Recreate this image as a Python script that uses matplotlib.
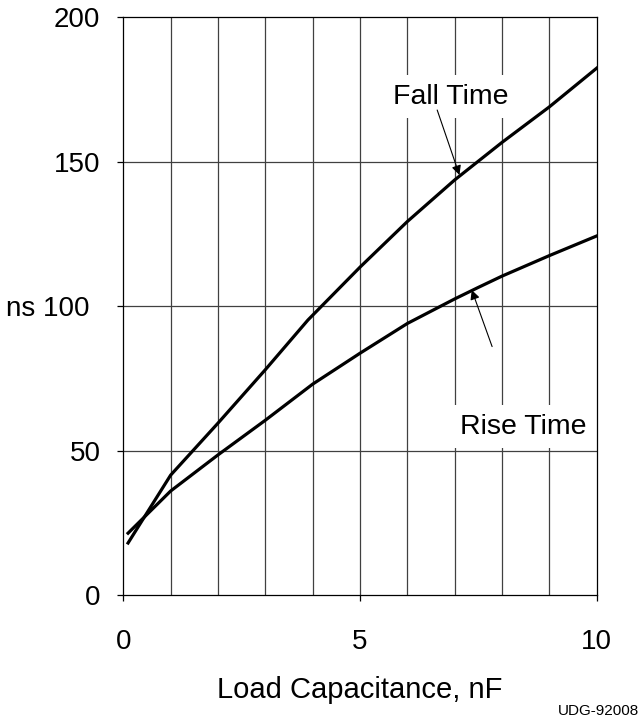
import matplotlib
matplotlib.use("Agg")
import matplotlib.pyplot as plt
import matplotlib.transforms as mtransforms

plt.rcParams['font.family'] = ['Liberation Sans', 'DejaVu Sans']

# Data
fall_x = [0.1, 1, 2, 3, 3.9, 5, 6, 7, 8, 9, 10]
fall_y = [18, 41.5, 59.5, 78, 95.2, 113.5, 129.3, 143.7, 156.7, 169, 182.4]

rise_x = [0.1, 1, 2, 3, 4, 5, 6, 7, 7.5, 8, 9, 10]
rise_y = [21.4, 36, 48.5, 60.5, 73, 83.7, 94, 102.5, 106.5, 110.4, 117.5, 124.3]

x_ticks = [0, 5, 10]
y_ticks = [0, 50, 100, 150, 200]
y_tick_labels = ['0', '50', 'ns 100', '150', '200']

fig = plt.figure(figsize=(6.44, 7.27), dpi=100)
ax = fig.add_axes([0.1915, 0.1816, 0.7351, 0.7946])

# grid
for gx in range(1, 10):
    ax.axvline(gx, color='0.25', lw=0.9, zorder=1)
for gy in [50, 100, 150]:
    ax.axhline(gy, color='0.25', lw=0.9, zorder=1)

ax.plot(fall_x, fall_y, color='black', lw=2.3, zorder=3)
ax.plot(rise_x, rise_y, color='black', lw=2.3, zorder=3)

ax.set_xlim(0, 10)
ax.set_ylim(0, 200)
ax.set_xticks(x_ticks)
ax.set_yticks(y_ticks)
ax.set_yticklabels(y_tick_labels)
ax.tick_params(axis='both', direction='out', length=4.5, width=0.9,
               labelsize=20, color='black')
ax.tick_params(axis='y', pad=12)
ax.tick_params(axis='x', pad=20)
for sp in ax.spines.values():
    sp.set_linewidth(0.9)
    sp.set_color('black')

# the "ns 100" label sits a bit further left than the others
shift = mtransforms.ScaledTranslation(-11 / 100, 0, fig.dpi_scale_trans)
for lbl in ax.get_yticklabels():
    if lbl.get_text().startswith('ns'):
        lbl.set_transform(lbl.get_transform() + shift)

ax.set_xlabel('Load Capacitance, nF', fontsize=21, labelpad=15)

box = dict(boxstyle='square,pad=0.3', fc='white', ec='none')
arrow = dict(arrowstyle='-|>', lw=0.8, color='black',
             mutation_scale=14, shrinkA=0, shrinkB=0)

ax.text(6.92, 172.5, 'Fall Time', fontsize=20.5, ha='center', va='center',
        bbox=box, zorder=4)
ax.annotate('', xy=(7.1, 145.4), xytext=(6.63, 167.9), arrowprops=arrow,
            zorder=5)

ax.text(8.45, 58.3, 'Rise Time', fontsize=20.5, ha='center', va='center',
        bbox=box, zorder=4)
ax.annotate('', xy=(7.36, 105.6), xytext=(7.79, 86), arrowprops=arrow,
            zorder=5)

fig.text(0.992, 0.022, 'UDG-92008', fontsize=11, ha='right', va='center')

fig.savefig('out.png', dpi=100)
